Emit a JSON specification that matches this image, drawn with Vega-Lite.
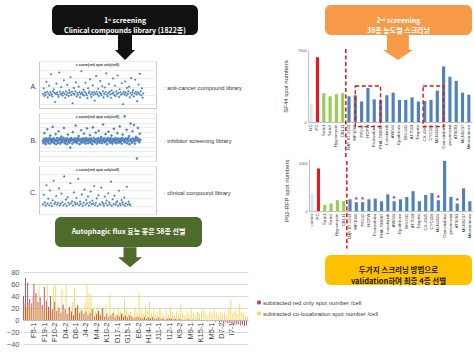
{
"$schema":"https://vega.github.io/schema/vega-lite/v6.json",
"padding":{"left":0,"top":5,"right":0,"bottom":0},
"background":"white",
"config":{"view":{"stroke":null},"concat":{"spacing":0},"font":"Liberation Sans"},
"datasets":{
"scA":[{"x":1,"y":0.3},{"x":2,"y":1.6},{"x":3,"y":-0.2},{"x":4,"y":0.6},{"x":5,"y":0.1},{"x":6,"y":3.1},{"x":7,"y":0.8},{"x":8,"y":-0.5},{"x":9,"y":0.4},{"x":10,"y":2.2},{"x":11,"y":0.0},{"x":12,"y":0.7},{"x":13,"y":4.9},{"x":14,"y":0.2},{"x":15,"y":-0.3},{"x":16,"y":0.9},{"x":17,"y":1.4},{"x":18,"y":0.5},{"x":19,"y":-1.6},{"x":20,"y":0.3},{"x":21,"y":2.7},{"x":22,"y":0.6},{"x":23,"y":0.1},{"x":24,"y":-0.4},{"x":25,"y":5.3},{"x":26,"y":0.8},{"x":27,"y":0.2},{"x":28,"y":1.9},{"x":29,"y":0.4},{"x":30,"y":-0.1},{"x":31,"y":0.7},{"x":32,"y":3.5},{"x":33,"y":0.3},{"x":34,"y":-0.6},{"x":35,"y":0.9},{"x":36,"y":0.1},{"x":37,"y":2.4},{"x":38,"y":0.5},{"x":39,"y":-0.2},{"x":40,"y":1.2},{"x":41,"y":0.6},{"x":42,"y":4.2},{"x":43,"y":0.0},{"x":44,"y":0.8},{"x":45,"y":-1.9},{"x":46,"y":0.4},{"x":47,"y":1.7},{"x":48,"y":0.2},{"x":49,"y":0.9},{"x":50,"y":3.0},{"x":51,"y":-0.3},{"x":52,"y":0.5},{"x":53,"y":0.1},{"x":54,"y":2.0},{"x":55,"y":0.7},{"x":56,"y":-0.5},{"x":57,"y":0.3},{"x":58,"y":5.6},{"x":59,"y":0.6},{"x":60,"y":0.2},{"x":61,"y":1.3},{"x":62,"y":-0.1},{"x":63,"y":0.8},{"x":64,"y":2.9},{"x":65,"y":0.4},{"x":66,"y":0.0},{"x":67,"y":-0.7},{"x":68,"y":1.6},{"x":69,"y":0.5},{"x":70,"y":0.9},{"x":71,"y":3.7},{"x":72,"y":0.2},{"x":73,"y":-0.4},{"x":74,"y":0.6},{"x":75,"y":2.3},{"x":76,"y":0.1},{"x":77,"y":0.7},{"x":78,"y":-1.3},{"x":79,"y":0.3},{"x":80,"y":4.5},{"x":81,"y":0.8},{"x":82,"y":0.2},{"x":83,"y":1.5},{"x":84,"y":-0.2},{"x":85,"y":0.6},{"x":86,"y":3.3},{"x":87,"y":0.4},{"x":88,"y":0.0},{"x":89,"y":2.1},{"x":90,"y":0.9},{"x":91,"y":-0.5},{"x":92,"y":0.3},{"x":93,"y":1.8},{"x":94,"y":0.7},{"x":95,"y":5.1},{"x":96,"y":0.1},{"x":97,"y":-0.3},{"x":98,"y":0.5},{"x":99,"y":2.6},{"x":100,"y":0.8},{"x":101,"y":0.2},{"x":102,"y":-0.6},{"x":103,"y":1.1},{"x":104,"y":0.4},{"x":105,"y":3.9},{"x":106,"y":0.6},{"x":107,"y":0.0},{"x":108,"y":2.2},{"x":109,"y":-0.2},{"x":110,"y":0.9},{"x":111,"y":0.3},{"x":112,"y":4.6},{"x":113,"y":0.5},{"x":114,"y":-0.4},{"x":115,"y":1.4},{"x":116,"y":0.7},{"x":117,"y":0.1},{"x":118,"y":2.8},{"x":119,"y":0.4},{"x":120,"y":-2.1},{"x":121,"y":0.8},{"x":122,"y":0.2},{"x":123,"y":3.2},{"x":124,"y":0.6},{"x":125,"y":-0.1},{"x":126,"y":1.7},{"x":127,"y":0.3},{"x":128,"y":0.9},{"x":129,"y":2.0},{"x":130,"y":-0.5},{"x":131,"y":0.5},{"x":132,"y":4.0},{"x":133,"y":0.1},{"x":134,"y":0.7},{"x":135,"y":1.2},{"x":136,"y":-0.3},{"x":137,"y":0.4},{"x":138,"y":3.6},{"x":139,"y":0.8},{"x":140,"y":0.2},{"x":141,"y":-1.4},{"x":142,"y":0.6},{"x":143,"y":2.5},{"x":144,"y":0.3},{"x":145,"y":5.0},{"x":146,"y":0.9},{"x":147,"y":0.0},{"x":148,"y":1.6},{"x":149,"y":-0.6},{"x":150,"y":0.4}],
"scB":[{"x":1,"y":0.2},{"x":2,"y":-0.3},{"x":3,"y":0.6},{"x":4,"y":1.8},{"x":5,"y":0.0},{"x":6,"y":0.4},{"x":7,"y":-0.5},{"x":8,"y":0.7},{"x":9,"y":0.1},{"x":10,"y":2.6},{"x":11,"y":0.5},{"x":12,"y":-0.2},{"x":13,"y":0.3},{"x":14,"y":0.8},{"x":15,"y":-0.4},{"x":16,"y":1.3},{"x":17,"y":0.2},{"x":18,"y":0.6},{"x":19,"y":-0.1},{"x":20,"y":0.4},{"x":21,"y":3.1},{"x":22,"y":0.0},{"x":23,"y":0.7},{"x":24,"y":-0.3},{"x":25,"y":0.5},{"x":26,"y":0.2},{"x":27,"y":1.6},{"x":28,"y":-0.5},{"x":29,"y":0.3},{"x":30,"y":0.8},{"x":31,"y":0.1},{"x":32,"y":-0.2},{"x":33,"y":2.2},{"x":34,"y":0.6},{"x":35,"y":0.4},{"x":36,"y":-0.4},{"x":37,"y":0.7},{"x":38,"y":0.0},{"x":39,"y":1.1},{"x":40,"y":0.3},{"x":41,"y":-0.1},{"x":42,"y":0.5},{"x":43,"y":0.8},{"x":44,"y":2.9},{"x":45,"y":0.2},{"x":46,"y":-0.3},{"x":47,"y":0.6},{"x":48,"y":0.1},{"x":49,"y":0.4},{"x":50,"y":-0.5},{"x":51,"y":0.7},{"x":52,"y":1.5},{"x":53,"y":0.0},{"x":54,"y":0.3},{"x":55,"y":-0.2},{"x":56,"y":0.6},{"x":57,"y":-1.2},{"x":58,"y":0.2},{"x":59,"y":0.8},{"x":60,"y":0.4},{"x":61,"y":-0.4},{"x":62,"y":2.0},{"x":63,"y":0.5},{"x":64,"y":0.1},{"x":65,"y":-0.1},{"x":66,"y":0.7},{"x":67,"y":0.3},{"x":68,"y":3.4},{"x":69,"y":0.0},{"x":70,"y":0.6},{"x":71,"y":-0.3},{"x":72,"y":0.2},{"x":73,"y":0.8},{"x":74,"y":1.2},{"x":75,"y":0.4},{"x":76,"y":-0.5},{"x":77,"y":0.5},{"x":78,"y":0.1},{"x":79,"y":2.4},{"x":80,"y":-0.2},{"x":81,"y":0.6},{"x":82,"y":0.3},{"x":83,"y":-0.1},{"x":84,"y":0.7},{"x":85,"y":1.7},{"x":86,"y":0.0},{"x":87,"y":0.4},{"x":88,"y":-0.4},{"x":89,"y":0.8},{"x":90,"y":0.2},{"x":91,"y":2.8},{"x":92,"y":0.5},{"x":93,"y":-0.3},{"x":94,"y":0.1},{"x":95,"y":0.6},{"x":96,"y":0.3},{"x":97,"y":1.4},{"x":98,"y":-0.2},{"x":99,"y":0.7},{"x":100,"y":0.0},{"x":101,"y":0.4},{"x":102,"y":-0.5},{"x":103,"y":3.0},{"x":104,"y":0.2},{"x":105,"y":0.8},{"x":106,"y":0.1},{"x":107,"y":-0.1},{"x":108,"y":0.5},{"x":109,"y":1.9},{"x":110,"y":0.3},{"x":111,"y":-0.4},{"x":112,"y":0.6},{"x":113,"y":0.0},{"x":114,"y":0.7},{"x":115,"y":2.3},{"x":116,"y":0.2},{"x":117,"y":-0.2},{"x":118,"y":0.4},{"x":119,"y":0.8},{"x":120,"y":1.0},{"x":121,"y":0.1},{"x":122,"y":-0.3},{"x":123,"y":0.5},{"x":124,"y":3.6},{"x":125,"y":0.3},{"x":126,"y":0.7},{"x":127,"y":-0.1},{"x":128,"y":0.0},{"x":129,"y":1.6},{"x":130,"y":0.6},{"x":131,"y":0.2},{"x":132,"y":-0.5},{"x":133,"y":0.4},{"x":134,"y":0.8},{"x":135,"y":2.1},{"x":136,"y":0.1},{"x":137,"y":0.5},{"x":138,"y":-0.2},{"x":139,"y":0.3},{"x":140,"y":0.7},{"x":141,"y":1.3},{"x":142,"y":0.0},{"x":143,"y":-0.4},{"x":144,"y":0.6},{"x":145,"y":0.2},{"x":146,"y":2.7},{"x":147,"y":0.4},{"x":148,"y":-0.1},{"x":149,"y":0.8},{"x":150,"y":0.3},{"x":151,"y":-0.3},{"x":152,"y":0.5},{"x":153,"y":1.8},{"x":154,"y":0.1},{"x":155,"y":0.7},{"x":156,"y":-0.2},{"x":157,"y":0.4},{"x":158,"y":3.2},{"x":159,"y":0.0},{"x":160,"y":0.6},{"x":161,"y":0.2},{"x":162,"y":-0.4},{"x":163,"y":0.8},{"x":164,"y":1.5},{"x":165,"y":0.3},{"x":166,"y":0.5},{"x":167,"y":0.0},{"x":168,"y":5.3},{"x":169,"y":-0.1},{"x":170,"y":0.7},{"x":171,"y":0.4},{"x":172,"y":2.5},{"x":173,"y":-0.3},{"x":174,"y":0.6},{"x":175,"y":0.1},{"x":176,"y":0.8},{"x":177,"y":1.2},{"x":178,"y":-0.5},{"x":179,"y":0.3},{"x":180,"y":3.8},{"x":181,"y":0.5},{"x":182,"y":0.0},{"x":183,"y":-0.2},{"x":184,"y":2.2},{"x":185,"y":0.7},{"x":186,"y":0.4},{"x":187,"y":3.5},{"x":188,"y":0.1},{"x":189,"y":-0.4},{"x":190,"y":0.6},{"x":191,"y":1.0},{"x":192,"y":0.3},{"x":193,"y":-3.5},{"x":194,"y":0.8},{"x":195,"y":2.9},{"x":196,"y":0.2},{"x":197,"y":0.5},{"x":198,"y":-0.1},{"x":199,"y":1.7},{"x":200,"y":0.4}],
"scC":[{"x":1,"y":0.4},{"x":2,"y":2.8},{"x":3,"y":0.9},{"x":4,"y":0.1},{"x":5,"y":5.2},{"x":6,"y":0.6},{"x":7,"y":1.8},{"x":8,"y":0.2},{"x":9,"y":3.9},{"x":10,"y":0.7},{"x":11,"y":0.0},{"x":12,"y":1.4},{"x":13,"y":6.3},{"x":14,"y":0.5},{"x":15,"y":0.9},{"x":16,"y":2.5},{"x":17,"y":0.3},{"x":18,"y":0.8},{"x":19,"y":4.4},{"x":20,"y":0.1},{"x":21,"y":0.6},{"x":22,"y":3.1},{"x":23,"y":1.0},{"x":24,"y":0.2},{"x":25,"y":7.4},{"x":26,"y":0.5},{"x":27,"y":1.6},{"x":28,"y":0.0},{"x":29,"y":2.2},{"x":30,"y":0.8},{"x":31,"y":0.3},{"x":32,"y":5.7},{"x":33,"y":0.7},{"x":34,"y":1.2},{"x":35,"y":0.1},{"x":36,"y":3.4},{"x":37,"y":0.9},{"x":38,"y":0.4},{"x":39,"y":2.0},{"x":40,"y":0.6},{"x":41,"y":6.8},{"x":42,"y":0.2},{"x":43,"y":1.1},{"x":44,"y":0.5},{"x":45,"y":2.9},{"x":46,"y":0.0},{"x":47,"y":0.8},{"x":48,"y":4.1},{"x":49,"y":0.3},{"x":50,"y":1.5},{"x":51,"y":0.7},{"x":52,"y":2.4},{"x":53,"y":0.1},{"x":54,"y":0.9},{"x":55,"y":3.6},{"x":56,"y":0.4},{"x":57,"y":1.3},{"x":58,"y":0.6},{"x":59,"y":5.0},{"x":60,"y":0.2},{"x":61,"y":0.8},{"x":62,"y":1.9},{"x":63,"y":0.0},{"x":64,"y":2.7},{"x":65,"y":0.5},{"x":66,"y":0.3},{"x":67,"y":4.6},{"x":68,"y":1.0},{"x":69,"y":0.6},{"x":70,"y":0.1},{"x":71,"y":2.3},{"x":72,"y":0.7},{"x":73,"y":1.4},{"x":74,"y":0.2},{"x":75,"y":3.2},{"x":76,"y":0.9},{"x":77,"y":0.4},{"x":78,"y":6.1},{"x":79,"y":0.0},{"x":80,"y":1.7},{"x":81,"y":0.5},{"x":82,"y":2.6},{"x":83,"y":0.3},{"x":84,"y":0.8},{"x":85,"y":1.2},{"x":86,"y":0.1},{"x":87,"y":3.8},{"x":88,"y":0.6},{"x":89,"y":0.2},{"x":90,"y":1.5},{"x":91,"y":0.9},{"x":92,"y":0.4},{"x":93,"y":2.1},{"x":94,"y":0.0},{"x":95,"y":0.7},{"x":96,"y":4.8},{"x":97,"y":0.3},{"x":98,"y":1.1},{"x":99,"y":0.5},{"x":100,"y":0.2}],
"flux":[{"c":"K12-1","r":40,"y":28},{"c":"E3-1","r":70,"y":22},{"c":"B7-2","r":62,"y":30},{"c":"H2-1","r":35,"y":18},{"c":"C9-1","r":28,"y":40},{"c":"F5-1","r":60,"y":25},{"c":"L4-1","r":45,"y":35},{"c":"G8-2","r":30,"y":57},{"c":"A11-1","r":38,"y":20},{"c":"J6-2","r":25,"y":15},{"c":"F19-1","r":55,"y":22},{"c":"D2-1","r":32,"y":58},{"c":"M3-2","r":22,"y":18},{"c":"B14-1","r":40,"y":12},{"c":"H9-2","r":18,"y":55},{"c":"F10-2","r":30,"y":60},{"c":"C5-1","r":15,"y":25},{"c":"K3-2","r":20,"y":14},{"c":"E11-1","r":12,"y":50},{"c":"G2-2","r":26,"y":18},{"c":"D4-2","r":18,"y":60},{"c":"L8-1","r":10,"y":20},{"c":"A6-2","r":22,"y":15},{"c":"J13-1","r":14,"y":30},{"c":"B2-1","r":8,"y":52},{"c":"D6-1","r":20,"y":22},{"c":"H7-1","r":25,"y":12},{"c":"C12-2","r":12,"y":18},{"c":"M6-1","r":16,"y":10},{"c":"E15-2","r":10,"y":28},{"c":"J4-2","r":14,"y":60},{"c":"G11-1","r":8,"y":45},{"c":"K6-1","r":12,"y":42},{"c":"B9-2","r":18,"y":20},{"c":"F2-2","r":6,"y":15},{"c":"M4-2","r":10,"y":22},{"c":"D9-1","r":15,"y":12},{"c":"L13-2","r":8,"y":18},{"c":"A3-1","r":20,"y":10},{"c":"H16-1","r":6,"y":25},{"c":"K10-2","r":10,"y":14},{"c":"C2-2","r":5,"y":42},{"c":"E8-1","r":8,"y":12},{"c":"J9-2","r":12,"y":18},{"c":"G5-1","r":4,"y":10},{"c":"D17-1","r":8,"y":22},{"c":"B12-1","r":6,"y":15},{"c":"M11-2","r":10,"y":12},{"c":"F7-1","r":5,"y":35},{"c":"L2-1","r":7,"y":18},{"c":"G15-1","r":4,"y":10},{"c":"H4-2","r":8,"y":14},{"c":"A9-2","r":6,"y":8},{"c":"K8-1","r":3,"y":20},{"c":"C15-1","r":5,"y":12},{"c":"E6-2","r":6,"y":45},{"c":"J2-1","r":4,"y":18},{"c":"D11-2","r":3,"y":10},{"c":"M14-1","r":5,"y":22},{"c":"B5-2","r":2,"y":15},{"c":"H14-1","r":4,"y":30},{"c":"F13-2","r":3,"y":12},{"c":"L6-2","r":5,"y":18},{"c":"G9-1","r":2,"y":10},{"c":"C7-2","r":3,"y":14},{"c":"J11-1","r":4,"y":20},{"c":"E13-1","r":2,"y":12},{"c":"K4-2","r":3,"y":8},{"c":"A14-1","r":1,"y":16},{"c":"D13-1","r":2,"y":10},{"c":"I12-1","r":3,"y":22},{"c":"M7-2","r":2,"y":12},{"c":"B16-2","r":1,"y":8},{"c":"H11-2","r":2,"y":15},{"c":"F4-1","r":1,"y":10},{"c":"K9-2","r":2,"y":26},{"c":"G13-2","r":1,"y":12},{"c":"L10-1","r":0,"y":8},{"c":"C4-1","r":1,"y":15},{"c":"E2-2","r":2,"y":10},{"c":"M9-1","r":0,"y":18},{"c":"J15-2","r":1,"y":12},{"c":"D15-2","r":-1,"y":8},{"c":"A5-1","r":0,"y":14},{"c":"I3-1","r":1,"y":10},{"c":"K15-1","r":-1,"y":15},{"c":"H6-1","r":0,"y":20},{"c":"B11-1","r":-1,"y":12},{"c":"F16-1","r":-2,"y":8},{"c":"L15-2","r":-1,"y":14},{"c":"M5-1","r":-2,"y":10},{"c":"G6-2","r":-1,"y":18},{"c":"C10-1","r":-3,"y":12},{"c":"I9-2","r":-2,"y":8},{"c":"E9-2","r":-4,"y":14},{"c":"D7-2","r":-3,"y":10},{"c":"J7-1","r":-5,"y":12},{"c":"K13-2","r":-4,"y":8},{"c":"A8-2","r":-6,"y":20},{"c":"H12-1","r":-5,"y":35},{"c":"I7-1","r":-7,"y":12},{"c":"B3-1","r":-6,"y":15},{"c":"F11-1","r":-8,"y":10},{"c":"M12-2","r":-7,"y":28},{"c":"G3-1","r":-9,"y":14},{"c":"L11-2","r":-8,"y":12},{"c":"C14-2","r":-10,"y":8},{"c":"I5-2","r":-9,"y":6}],
"sf44":[{"c":"NC","v":1800,"g":"nc"},{"c":"PC","v":6300,"g":"pc"},{"c":"Torin1","v":2800,"g":"ctrl"},{"c":"Torin2","v":2500,"g":"ctrl"},{"c":"Hygromycin","v":2700,"g":"ctrl"},{"c":"CBL11","v":2800,"g":"ctrl"},{"c":"BAY 87-2243","v":2500,"g":"cand"},{"c":"WP1066","v":2600,"g":"cand"},{"c":"PP242","v":2000,"g":"cand"},{"c":"HCPW","v":3300,"g":"cand"},{"c":"Fludarabine","v":2200,"g":"cand"},{"c":"PHA-793887","v":2150,"g":"cand"},{"c":"Lonafarnib","v":2600,"g":"cand"},{"c":"AW044","v":2850,"g":"cand"},{"c":"Epothilone","v":2150,"g":"cand"},{"c":"586-032","v":2150,"g":"cand"},{"c":"AT7519","v":2400,"g":"cand"},{"c":"Triapine","v":2000,"g":"cand"},{"c":"CX-4945","v":2050,"g":"cand"},{"c":"CYC116","v":2150,"g":"cand"},{"c":"MLN4924","v":3050,"g":"cand"},{"c":"Gemcitabine","v":5400,"g":"cand"},{"c":"pracinostat","v":4400,"g":"cand"},{"c":"AT9283","v":4000,"g":"cand"},{"c":"MLN8237","v":2850,"g":"cand"},{"c":"Mitoxantrone","v":2650,"g":"cand"}],
"p62":[{"c":"control","v":1800,"g":"nc","s":false},{"c":"PC","v":4500,"g":"pc","s":false},{"c":"Torin1","v":650,"g":"ctrl","s":false},{"c":"Torin2","v":800,"g":"ctrl","s":false},{"c":"Hygromycin","v":1150,"g":"ctrl","s":false},{"c":"CBL11","v":1050,"g":"ctrl","s":false},{"c":"BAY 87-2243","v":1240,"g":"cand","s":false},{"c":"WP1066","v":930,"g":"cand","s":true},{"c":"PP242","v":930,"g":"cand","s":true},{"c":"HCPW","v":1240,"g":"cand","s":false},{"c":"Fludarabine","v":1310,"g":"cand","s":false},{"c":"PHA-793887","v":1030,"g":"cand","s":false},{"c":"Lonafarnib","v":1760,"g":"cand","s":false},{"c":"AW044","v":1030,"g":"cand","s":true},{"c":"Epothilone","v":1240,"g":"cand","s":false},{"c":"586-032","v":1480,"g":"cand","s":false},{"c":"AT7519","v":2100,"g":"cand","s":false},{"c":"Triapine","v":1030,"g":"cand","s":false},{"c":"CX-4945","v":1690,"g":"cand","s":false},{"c":"CYC116","v":1900,"g":"cand","s":false},{"c":"MLN4924","v":1140,"g":"cand","s":true},{"c":"Gemcitabine","v":5300,"g":"cand","s":false},{"c":"pracinostat","v":1480,"g":"cand","s":false},{"c":"AT9283","v":800,"g":"cand","s":true},{"c":"MLN8237","v":2400,"g":"cand","s":false},{"c":"Mitoxantrone","v":1030,"g":"cand","s":false}]
},
"spacing":0,
"resolve":{"scale":{"color":"independent"}},
"hconcat":[
{"spacing":0,"resolve":{"scale":{"color":"independent"}},"vconcat":[
 {"spacing":0,"hconcat":[
  {"width":52,"height":1,"data":{"values":[{}]},"mark":{"type":"point","size":0,"strokeWidth":0,"opacity":0}},
  {"spacing":0,"center":true,"vconcat":[
   {"width":146,"height":30,"data":{"values":[{}]},"view":{"fill":"#111111","stroke":null,"cornerRadius":6},"mark":{"type":"text","text":["1ˢᵗ screening","Clinical compounds library (1822종)"],"color":"white","font":"Noto Sans CJK KR","fontWeight":"bold","fontSize":7,"lineHeight":10,"dy":1}},
   {"width":30,"height":24,"data":{"values":[{}]},"mark":{"type":"point","shape":"M-0.7,-1.25L0.7,-1.25L0.7,0.25L1,0.25L0,1.25L-1,0.25L-0.7,0.25Z","size":400,"filled":true,"color":"#111111","opacity":1,"strokeWidth":0,"yOffset":-0.5}}
  ]}
 ]},
 {"spacing":3,"vconcat":[
  {"spacing":0,"hconcat":[
   {"width":38,"height":47,"data":{"values":[{"t":"A."}]},"mark":{"type":"text","align":"right","dx":-1,"dy":2.5,"fontSize":7,"color":"#404040"},"encoding":{"text":{"field":"t"},"x":{"datum":1,"type":"quantitative","scale":{"domain":[0,1]},"axis":null}}},
   {"width":117,"height":47,"data":{"name":"scA"},"view":{"stroke":"#c9c9c9"},"title":{"text":"z-score(red spot only/cell)","fontSize":3.5,"offset":-5.5,"fontWeight":"bold","color":"#333"},"mark":{"type":"point","shape":"diamond","filled":true,"size":7,"color":"#4a7ebb","opacity":0.95},"encoding":{"x":{"field":"x","type":"quantitative","scale":{"domain":[-5,169]},"axis":null},"y":{"field":"y","type":"quantitative","scale":{"domain":[-3,8]},"axis":{"grid":true,"gridColor":"#ececec","labels":false,"ticks":false,"domain":false,"title":null,"minExtent":0,"maxExtent":0,"tickCount":6}}}},
   {"width":100,"height":47,"data":{"values":[{"t":": anti-cancer compound library"}]},"mark":{"type":"text","align":"left","dx":7,"dy":3,"fontSize":5.8,"color":"#333"},"encoding":{"text":{"field":"t"},"x":{"datum":0,"type":"quantitative","scale":{"domain":[0,1]},"axis":null}}}
  ]},
  {"spacing":0,"hconcat":[
   {"width":38,"height":48,"data":{"values":[{"t":"B."}]},"mark":{"type":"text","align":"right","dx":-1,"dy":3.5,"fontSize":7,"color":"#404040"},"encoding":{"text":{"field":"t"},"x":{"datum":1,"type":"quantitative","scale":{"domain":[0,1]},"axis":null}}},
   {"width":117,"height":48,"data":{"name":"scB"},"view":{"stroke":"#c9c9c9"},"title":{"text":"z-score(red spot only/cell)","fontSize":3.5,"offset":-5.5,"fontWeight":"bold","color":"#333"},"mark":{"type":"point","shape":"diamond","filled":true,"size":10,"color":"#4a7ebb","opacity":0.95},"encoding":{"x":{"field":"x","type":"quantitative","scale":{"domain":[-7,232]},"axis":null},"y":{"field":"y","type":"quantitative","scale":{"domain":[-4,6]},"axis":{"grid":true,"gridColor":"#ececec","labels":false,"ticks":false,"domain":false,"title":null,"minExtent":0,"maxExtent":0,"tickCount":8}}}},
   {"width":100,"height":48,"data":{"values":[{"t":": inhibitor screening library"}]},"mark":{"type":"text","align":"left","dx":7,"dy":3.5,"fontSize":5.8,"color":"#333"},"encoding":{"text":{"field":"t"},"x":{"datum":0,"type":"quantitative","scale":{"domain":[0,1]},"axis":null}}}
  ]},
  {"spacing":0,"hconcat":[
   {"width":38,"height":48,"data":{"values":[{"t":"C."}]},"mark":{"type":"text","align":"right","dx":-1,"dy":3,"fontSize":7,"color":"#404040"},"encoding":{"text":{"field":"t"},"x":{"datum":1,"type":"quantitative","scale":{"domain":[0,1]},"axis":null}}},
   {"width":117,"height":48,"data":{"name":"scC"},"view":{"stroke":"#c9c9c9"},"title":{"text":"z-score(red spot only/cell)","fontSize":3.5,"offset":-5.5,"fontWeight":"bold","color":"#333"},"mark":{"type":"point","shape":"diamond","filled":true,"size":7,"color":"#4a7ebb","opacity":0.95},"encoding":{"x":{"field":"x","type":"quantitative","scale":{"domain":[-3.5,129]},"axis":null},"y":{"field":"y","type":"quantitative","scale":{"domain":[-2,10]},"axis":{"grid":true,"gridColor":"#ececec","labels":false,"ticks":false,"domain":false,"title":null,"minExtent":0,"maxExtent":0,"tickCount":6}}}},
   {"width":100,"height":48,"data":{"values":[{"t":": clinical compound library"}]},"mark":{"type":"text","align":"left","dx":7,"dy":3,"fontSize":5.8,"color":"#333"},"encoding":{"text":{"field":"t"},"x":{"datum":0,"type":"quantitative","scale":{"domain":[0,1]},"axis":null}}}
  ]}
 ]},
 {"width":1,"height":2,"data":{"values":[{}]},"mark":{"type":"point","size":0,"strokeWidth":0,"opacity":0}},
 {"spacing":0,"hconcat":[
  {"width":55,"height":1,"data":{"values":[{}]},"mark":{"type":"point","size":0,"strokeWidth":0,"opacity":0}},
  {"spacing":0,"center":true,"vconcat":[
   {"width":147,"height":30,"data":{"values":[{}]},"view":{"fill":"#4f6b2b","stroke":null,"cornerRadius":6},"mark":{"type":"text","text":"Autophagic flux 효능 좋은 58종 선별","color":"white","font":"Noto Sans CJK KR","fontWeight":"bold","fontSize":7}},
   {"width":30,"height":20.5,"data":{"values":[{}]},"mark":{"type":"point","shape":"M-0.54,-0.833L0.54,-0.833L0.54,0L1,0L0,0.833L-1,0L-0.54,0Z","size":576,"filled":true,"color":"#4f6b2b","opacity":1,"strokeWidth":0,"xOffset":1.5,"yOffset":0}}
  ]}
 ]},
 {"spacing":0,"hconcat":[
  {"width":1,"height":1,"data":{"values":[{}]},"mark":{"type":"point","size":0,"strokeWidth":0,"opacity":0}},
  {"width":225,"height":72,"data":{"name":"flux"},"transform":[{"fold":["r","y"],"as":["s","v"]}],
   "mark":{"type":"bar"},
   "encoding":{
    "x":{"field":"c","type":"nominal","sort":null,"scale":{"paddingInner":0.1,"paddingOuter":0},"axis":{"values":["K12-1","F5-1","F19-1","F10-2","D4-2","D6-1","J4-2","M4-2","K10-2","D17-1","G15-1","E6-2","H14-1","J11-1","I12-1","K9-2","M9-1","K15-1","M5-1","D7-2","I7-1"],"labelAngle":-90,"labelFontSize":7.5,"labelColor":"#404040","offset":-24,"ticks":false,"domainColor":"#bfbfbf","title":null,"labelPadding":2,"labelOverlap":false,"labelBound":false,"zindex":1}},
    "xOffset":{"field":"s","type":"nominal"},
    "y":{"field":"v","type":"quantitative","scale":{"domain":[-40,80]},"axis":{"values":[-40,-20,0,20,40,60,80],"grid":true,"gridColor":"#d9d9d9","domain":false,"ticks":false,"labelFontSize":7.5,"labelColor":"#595959","labelPadding":4,"minExtent":22,"maxExtent":22,"title":null}},
    "color":{"field":"s","type":"nominal","scale":{"domain":["r","y"],"range":["#b04a6c","#f5d85a"]},"legend":null}
   }}
 ]}
]},
{"spacing":0,"resolve":{"scale":{"color":"independent"}},"vconcat":[
 {"spacing":0,"hconcat":[
  {"width":68,"height":1,"data":{"values":[{}]},"mark":{"type":"point","size":0,"strokeWidth":0,"opacity":0}},
  {"width":147,"height":30,"data":{"values":[{}]},"view":{"fill":"#f79a47","stroke":null,"cornerRadius":6},"mark":{"type":"text","text":["2ⁿᵈ screening","38종 농도별 스크리닝"],"color":"white","font":"Noto Sans CJK KR","fontWeight":"bold","fontSize":7,"lineHeight":10,"dy":1}}
 ]},
 {"spacing":0,"hconcat":[
  {"width":25,"height":1,"data":{"values":[{}]},"mark":{"type":"point","size":0,"strokeWidth":0,"opacity":0}},
  {"width":164,"height":72,"data":{"name":"sf44"},
   "layer":[
    {"mark":{"type":"bar"},"encoding":{
      "x":{"field":"c","type":"nominal","sort":null,"scale":{"domain":["NC","PC","Torin1","Torin2","Hygromycin","CBL11","BAY 87-2243","WP1066","PP242","HCPW","Fludarabine","PHA-793887","Lonafarnib","AW044","Epothilone","586-032","AT7519","Triapine","CX-4945","CYC116","MLN4924","Gemcitabine","pracinostat","AT9283","MLN8237","Mitoxantrone"],"paddingInner":0.5,"paddingOuter":0.25},"axis":{"title":null,"labelAngle":-90,"labelFontSize":4.3,"labelColor":"#333","ticks":false,"domainColor":"#bfbfbf","labelPadding":2}},
      "y":{"field":"v","type":"quantitative","scale":{"domain":[0,7000]},"axis":{"values":[0,1000,2000,3000,4000,5000,6000,7000],"format":"d","labelFontSize":3.8,"labelColor":"#595959","ticks":false,"grid":false,"domainColor":"#bfbfbf","title":"SF44 spot numbers","titleFontSize":6,"titleFontWeight":"normal","titleColor":"#333","titlePadding":3,"minExtent":17,"maxExtent":17,"labelPadding":2}},
      "color":{"field":"g","type":"nominal","scale":{"domain":["nc","pc","ctrl","cand"],"range":["#dde7f3","#e8191e","#92d050","#4f81bd"]},"legend":null}}},
    {"data":{"values":[{}]},"mark":{"type":"rect","fillOpacity":0,"stroke":"#e0101a","strokeDash":[4,2.5],"strokeWidth":1.4},"encoding":{"x":{"datum":"WP1066","bandPosition":0.5},"x2":{"datum":"PHA-793887","bandPosition":0.5},"y":{"datum":3500},"y2":{"datum":-450}}},
    {"data":{"values":[{}]},"mark":{"type":"rect","fillOpacity":0,"stroke":"#e0101a","strokeDash":[4,2.5],"strokeWidth":1.4},"encoding":{"x":{"datum":"CX-4945","bandPosition":0},"x2":{"datum":"Gemcitabine","bandPosition":0.5},"y":{"datum":3500},"y2":{"datum":-450}}},
    {"data":{"values":[{}]},"mark":{"type":"rule","color":"#e0101a","strokeDash":[4,2.5],"strokeWidth":1.5,"xOffset":-1.6},"encoding":{"x":{"datum":"BAY 87-2243","bandPosition":0},"y":{"datum":7100},"y2":{"datum":-3400}}},
    {"data":{"values":[{}]},"mark":{"type":"point","shape":"M-0.73,-0.833L0.73,-0.833L0.73,0.167L1,0.167L0,0.833L-1,0.167L-0.73,0.167Z","size":900,"filled":true,"color":"#f79a47","opacity":1,"strokeWidth":0},"encoding":{"x":{"datum":"Epothilone","bandPosition":0},"y":{"datum":7240}}}
   ]}
 ]},
 {"spacing":0,"hconcat":[
  {"width":25,"height":1,"data":{"values":[{}]},"mark":{"type":"point","size":0,"strokeWidth":0,"opacity":0}},
  {"width":164,"height":52,"data":{"name":"p62"},
   "layer":[
    {"mark":{"type":"bar"},"encoding":{
      "x":{"field":"c","type":"nominal","sort":null,"scale":{"domain":["control","PC","Torin1","Torin2","Hygromycin","CBL11","BAY 87-2243","WP1066","PP242","HCPW","Fludarabine","PHA-793887","Lonafarnib","AW044","Epothilone","586-032","AT7519","Triapine","CX-4945","CYC116","MLN4924","Gemcitabine","pracinostat","AT9283","MLN8237","Mitoxantrone"],"paddingInner":0.5,"paddingOuter":0.25},"axis":{"title":null,"labelAngle":-90,"labelFontSize":4.3,"labelColor":"#333","ticks":false,"domainColor":"#bfbfbf","labelPadding":2}},
      "y":{"field":"v","type":"quantitative","scale":{"domain":[0,5300]},"axis":{"values":[0,1000,2000,3000,4000,5000],"format":"d","labelFontSize":3.8,"labelColor":"#595959","ticks":false,"grid":false,"domainColor":"#bfbfbf","title":"P62-RFP spot numbers","titleAnchor":"end","titleFontSize":6,"titleFontWeight":"normal","titleColor":"#333","titlePadding":3,"minExtent":17,"maxExtent":17,"labelPadding":2}},
      "color":{"field":"g","type":"nominal","scale":{"domain":["nc","pc","ctrl","cand"],"range":["#dde7f3","#e8191e","#92d050","#4f81bd"]},"legend":null}}},
    {"transform":[{"filter":"datum.s"}],"mark":{"type":"text","text":"*","color":"#e0101a","fontSize":8,"fontWeight":"bold","baseline":"middle","dy":-2},"encoding":{"x":{"field":"c","type":"nominal","sort":null},"y":{"field":"v","type":"quantitative"}}},
    {"data":{"values":[{}]},"mark":{"type":"rule","color":"#e0101a","strokeDash":[4,2.5],"strokeWidth":1.5,"xOffset":-1.6},"encoding":{"x":{"datum":"BAY 87-2243","bandPosition":0},"y":{"datum":5300},"y2":{"datum":-3975}}}
   ]}
 ]},
 {"width":1,"height":5,"data":{"values":[{}]},"mark":{"type":"point","size":0,"strokeWidth":0,"opacity":0}},
 {"spacing":0,"hconcat":[
  {"width":68,"height":42,"data":{"values":[{}]},"mark":{"type":"point","size":0,"strokeWidth":0,"opacity":0}},
  {"width":147,"height":30,"data":{"values":[{}]},"view":{"fill":"#ffc000","stroke":null,"cornerRadius":6},"mark":{"type":"text","text":["두가지 스크리닝 방법으로","validation하여 최종 4종 선별"],"color":"#1a1a1a","font":"Noto Sans CJK KR","fontWeight":"bold","fontSize":7.5,"lineHeight":11,"dy":1}}
 ]},
 {"width":150,"height":22,"data":{"values":[{"k":"subtracted red only spot number /cell","s":"r"},{"k":"subtracted co-localization spot number /cell","s":"y"}]},
  "layer":[
   {"mark":{"type":"point","shape":"square","filled":true,"size":14,"opacity":1,"xOffset":2},"encoding":{"x":{"datum":0,"type":"quantitative","scale":{"domain":[0,1]},"axis":null},"y":{"field":"k","type":"nominal","sort":null,"axis":null},"color":{"field":"s","type":"nominal","scale":{"domain":["r","y"],"range":["#b04a6c","#f5d85a"]},"legend":null}}},
   {"mark":{"type":"text","align":"left","dx":6,"fontSize":6,"color":"#404040"},"encoding":{"x":{"datum":0,"type":"quantitative"},"y":{"field":"k","type":"nominal","sort":null},"text":{"field":"k"}}}
  ]}
]}
]
}
